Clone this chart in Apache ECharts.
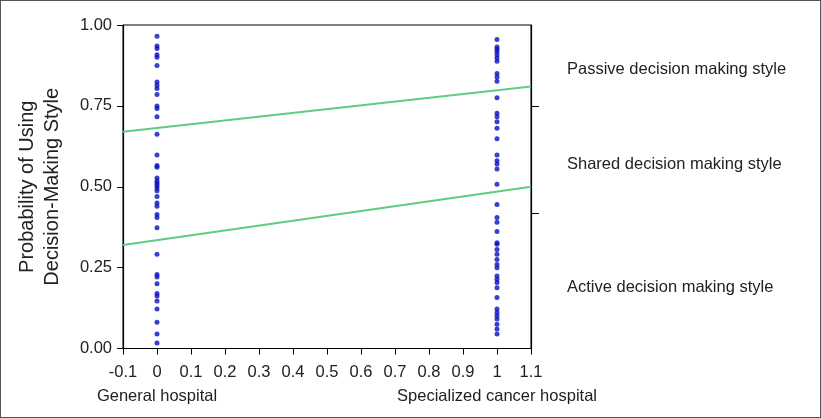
<!DOCTYPE html>
<html><head><meta charset="utf-8">
<script src="https://cdn.jsdelivr.net/npm/echarts@6/dist/echarts.min.js"></script>
<style>html,body{margin:0;padding:0;background:#fff}#c{width:821px;height:418px;box-sizing:border-box;border:1px solid #555}</style>
</head><body><div id="c"></div>
<script>
// x positions
var groupPositions = [0, 1];
var groupNames = ['General hospital', 'Specialized cancer hospital'];
// observed probabilities (dots)
var generalHospital = [0.965,0.935,0.927,0.908,0.900,0.875,0.824,0.814,0.804,0.785,0.750,0.742,0.716,0.662,
  0.598,0.566,0.560,0.527,0.518,0.511,0.504,0.496,0.488,0.470,0.450,0.440,0.414,0.405,0.373,
  0.291,0.229,0.221,0.200,0.170,0.162,0.147,0.122,0.081,0.045,0.017];
var cancerHospital = [0.955,0.932,0.925,0.917,0.908,0.898,0.888,0.850,0.839,0.826,0.775,0.727,0.716,0.701,0.681,
  0.648,0.598,0.580,0.570,0.555,0.508,0.445,0.405,0.390,0.362,0.327,
  0.322,0.306,0.291,0.275,0.260,0.250,0.224,0.214,0.204,0.188,0.158,0.122,0.111,0.101,0.091,0.075,0.060,0.045];
// fitted boundary lines at x = -0.1 and 1.1
var lineX = [-0.1, 1.1];
var upperBoundary = [0.670, 0.810];
var lowerBoundary = [0.320, 0.500];
// right-side category labels
var styleLabels = ['Passive decision making style','Shared decision making style','Active decision making style'];
var styleLabelPos = [0.862, 0.568, 0.190];
var styleTickPos = [0.75, 0.419];

var font = 'Liberation Sans, Arial, sans-serif';
var fs = 16.5;
var chart = echarts.init(document.getElementById('c'));
function pts(xs, ys){ return ys.map(function(v,i){ return [xs[i], v]; }); }
function nearestIdx(arr, v){ var best=0; arr.forEach(function(p,j){ if(Math.abs(p-v)<Math.abs(arr[best]-v)) best=j; }); return best; }
chart.setOption({
  animation:false,
  grid:{left:122,right:289,top:24,bottom:68.5,show:true,borderColor:'#000',borderWidth:1,backgroundColor:'transparent'},
  xAxis:[{
    type:'value',min:-0.1,max:1.1,interval:0.1,
    axisLine:{onZero:false,lineStyle:{color:'#000',width:1.2}},
    axisTick:{show:true,length:6,lineStyle:{color:'#000'}},
    splitLine:{show:false},
    axisLabel:{color:'#222',fontSize:fs,fontFamily:font,margin:15,
      formatter:function(v){ return String(Math.round(v*10)/10); }}
  },{
    type:'value',min:-0.1,max:1.1,position:'bottom',offset:24,
    axisLine:{show:false,onZero:false},axisTick:{show:false},splitLine:{show:false},
    axisLabel:{customValues:groupPositions,color:'#222',fontSize:fs,fontFamily:font,margin:15,
      formatter:function(v){ return groupNames[nearestIdx(groupPositions, v)]; }}
  }],
  yAxis:[{
    type:'value',min:0,max:1,interval:0.25,
    name:'Probability of Using\nDecision-Making Style',nameLocation:'middle',nameGap:58,
    nameTextStyle:{color:'#222',fontSize:20,fontFamily:font,lineHeight:25},
    axisLine:{show:true,onZero:false,lineStyle:{color:'#000',width:1.2}},
    axisTick:{show:true,length:6,lineStyle:{color:'#000'}},
    splitLine:{show:false},
    axisLabel:{color:'#222',fontSize:fs,fontFamily:font,margin:11,formatter:function(v){return v.toFixed(2);}}
  },{
    type:'value',min:0,max:1,position:'right',
    axisLine:{show:true,onZero:false,lineStyle:{color:'#000',width:1.2}},
    axisTick:{show:true,inside:false,length:8,customValues:styleTickPos,lineStyle:{color:'#000'}},
    splitLine:{show:false},
    axisLabel:{customValues:styleLabelPos,color:'#222',fontSize:fs,fontFamily:font,margin:36,align:'left',
      formatter:function(v){ return styleLabels[nearestIdx(styleLabelPos, v)]; }}
  }],
  series:[
    {type:'line',data:pts(lineX,upperBoundary),symbol:'none',lineStyle:{color:'#5fcd7f',width:2},z:2},
    {type:'line',data:pts(lineX,lowerBoundary),symbol:'none',lineStyle:{color:'#5fcd7f',width:2},z:2},
    {type:'scatter',data:generalHospital.map(function(v){return [groupPositions[0],v];}),symbolSize:5,itemStyle:{color:'#0a0fc0'},z:3},
    {type:'scatter',data:cancerHospital.map(function(v){return [groupPositions[1],v];}),symbolSize:5,itemStyle:{color:'#0a0fc0'},z:3}
  ]
});
</script></body></html>
